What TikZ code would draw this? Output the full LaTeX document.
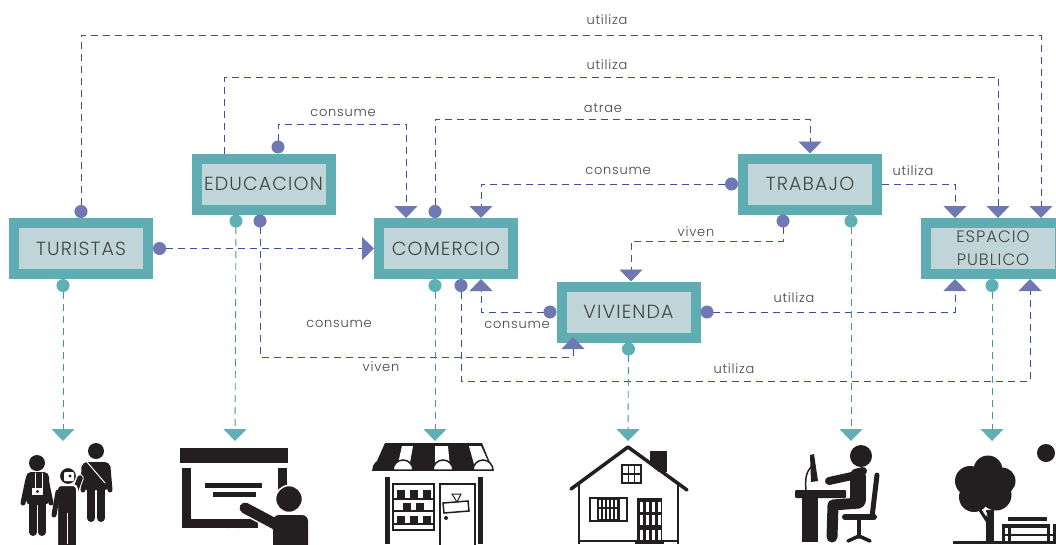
\documentclass[tikz,border=0pt]{standalone}
\usepackage{fontspec}
\setmainfont{Poppins Light}[LetterSpace=6]
\usetikzlibrary{arrows.meta,calc}
\definecolor{boxb}{HTML}{5FADB2}
\definecolor{boxf}{HTML}{C0D5D7}
\definecolor{ink}{HTML}{231F20}
\definecolor{txt}{HTML}{444444}
\definecolor{lineb}{HTML}{3F4F9C}
\definecolor{tipb}{HTML}{6F78B2}
\definecolor{linet}{HTML}{3C9AA0}
\definecolor{tipt}{HTML}{5FAFB5}
\tikzset{
  x=1pt,y=-1pt,
  dotb/.tip={Circle[length=13pt,color=tipb]},
  trib/.tip={Triangle[width=23pt,length=12pt,color=tipb]},
  dott/.tip={Circle[length=13pt,color=tipt]},
  trit/.tip={Triangle[width=23pt,length=12pt,color=tipt]},
  flowb/.style={draw=lineb,line width=0.9pt,dash pattern=on 7pt off 5pt,arrows={dotb-trib}},
  flowbn/.style={draw=lineb,line width=0.9pt,dash pattern=on 7pt off 5pt,arrows={-trib}},
  flowt/.style={draw=linet,line width=0.9pt,dash pattern=on 7pt off 5pt,arrows={dott-trit}},
  sector/.style={draw=boxb,fill=boxf,line width=10pt,minimum width=134pt,minimum height=51pt,inner sep=0pt,font=\fontsize{19}{23}\selectfont,text=txt,align=center},
  lbl/.style={font=\fontsize{13}{15}\selectfont,text=txt,inner sep=0pt},
  k/.style={fill=ink,draw=none},
  kl/.style={draw=ink,line cap=round,line join=round},
  wl/.style={draw=white,line cap=round,line join=round},
}
\begin{document}
\begin{tikzpicture}
\clip (0,0) rectangle (1056,544);
\fill[white] (0,0) rectangle (1056,544);
% boxes
\node[sector] (tur) at (81,248.5) {TURISTAS};
\node[sector] (edu) at (263.5,184) {EDUCACION};
\node[sector] (com) at (446,248.5) {COMERCIO};
\node[sector] (tra) at (810,184) {TRABAJO};
\node[sector] (viv) at (628.5,312) {VIVIENDA};
\node[sector,font=\fontsize{16.5}{23}\selectfont] (esp) at (993,248.5) {ESPACIO\\PUBLICO};
% targets below
\coordinate (itur) at (63,441);
\coordinate (iedu) at (235,441);
\coordinate (icom) at (435,441);
\coordinate (iviv) at (628,441);
\coordinate (itra) at (851,441);
\coordinate (iesp) at (992,441);
% blue connectors
\draw[flowb] (tur.north) |- (1041,35) -- (esp.north -| 1041,0);
\draw[flowbn] (edu.north -| 224,0) |- (998,77) -- (esp.north -| 998,0);
\draw[flowb] (edu.north -| 278,0) |- (406,124) -- (com.north -| 406,0);
\draw[flowb] (com.north -| 435,0) |- (810,119) -- (tra.north);
\draw[flowb] (tra.west) -| (com.north -| 481,0);
\draw[flowbn] (tra.east) -| (esp.north -| 955,0);
\draw[flowb] (tra.south -| 783,0) |- (631,241) -- (viv.north -| 631,0);
\draw[flowb] (tur.east) -- (com.west);
\draw[flowb] (edu.south -| 260,0) |- (573,357) -- (573,337);
\draw[flowb] (com.south -| 461,0) |- (1030,381) -- (esp.south -| 1030,0);
\draw[flowb] (viv.west) -| (com.south -| 481,0);
\draw[flowb] (viv.east) -| (esp.south -| 955,0);
% teal connectors
\draw[flowt] (tur.south -| 63,0) -- (itur);
\draw[flowt] (edu.south -| 236,0) -- (iedu);
\draw[flowt] (com.south -| 435,0) -- (icom);
\draw[flowt] (viv.south) -- (iviv);
\draw[flowt] (tra.south -| 851,0) -- (itra);
\draw[flowt] (esp.south -| 992,0) -- (iesp);
% labels
\node[lbl] (l1) at (607,20) {utiliza};
\node[lbl] (l2) at (607,65) {utiliza};
\node[lbl] (l3) at (343,113) {consume};
\node[lbl] (l4) at (603,108) {atrae};
\node[lbl] (l5) at (618,171) {consume};
\node[lbl] (l6) at (913,171) {utiliza};
\node[lbl] (l7) at (696,232) {viven};
\node[lbl] (l8) at (339,324) {consume};
\node[lbl] (l9) at (381,367) {viven};
\node[lbl] (l10) at (517,325) {consume};
\node[lbl] (l11) at (794,298) {utiliza};
\node[lbl] (l12) at (734,369) {utiliza};
% ---------- icon: tourists
\fill[k] (37,463) circle (8);
\draw[kl,line width=5pt] (28,479) -- (23,503) (46,479) -- (51,503);
\fill[k,rounded corners=5pt] (26,472) rectangle (49,505);
\draw[kl,line width=8pt] (33,500) -- (33,532) (42,500) -- (42,532);
\draw[wl,line width=0.8pt] (35,473) -- (35,488) (42,473) -- (42,488);
\fill[white] (32,488) rectangle (43,495);
\fill[k] (37.5,491.5) circle (1.6);
\fill[k] (96,451) circle (8);
\draw[kl,line width=5pt] (84,467) -- (83,490) (108,467) -- (110,490);
\fill[k,rounded corners=5pt] (82,462) rectangle (110,490);
\draw[kl,line width=8pt] (91,490) -- (91,518) (101,490) -- (101,518);
\draw[wl,line width=1pt] (87,462) -- (105,483);
\draw[white,line width=2pt,fill=ink] (68,476) circle (9);
\fill[white,rounded corners=1pt] (64,472) rectangle (74,481);
\fill[k] (70,476) circle (1.7);
\draw[white,line width=7.5pt,line cap=round] (75,492) -- (80,478);
\draw[kl,line width=5.5pt] (75,492) -- (80,478);
\draw[white,line width=2pt,fill=ink,rounded corners=4pt] (57,485) rectangle (77,550);
\draw[kl,line width=5pt] (58,492) -- (54,515);
\draw[white,line width=1.5pt] (67.5,513) -- (67.5,544);
% ---------- icon: education
\fill[k] (180,448) rectangle (288,463);
\fill[k] (182,468) rectangle (191,528);
\fill[k] (182,519) rectangle (258,528);
\fill[k] (278,468) rectangle (287,490);
\fill[k] (205,483) rectangle (262,488);
\fill[k] (213,492) rectangle (256,497);
\draw[ink,line width=1.5pt] (228,528) arc[start angle=180,end angle=360,radius=6];
\draw[white,line width=14pt,line cap=round] (245,508) -- (277,525);
\draw[kl,line width=11pt] (245,508) -- (277,525);
\draw[white,line width=1.5pt,fill=ink] (289,499) circle (13.5);
\fill[k,rounded corners=6pt] (273,515) rectangle (308,560);
\fill[k] (270,521) -- (280,515) -- (280,530) -- (273,530) -- cycle;
% ---------- icon: shop
\fill[k] (385,443) -- (482,443) -- (493,470) -- (373,470) -- cycle;
\fill[white] (402,446) -- (413,446) -- (409,468) -- (397,468) -- cycle;
\fill[white] (435,446) -- (448,446) -- (450,468) -- (435,468) -- cycle;
\fill[white] (469,446) -- (481,446) -- (491,468) -- (475,468) -- cycle;
\foreach \cx/\fl in {383/ink,403/white,425/ink,443/white,463/ink,483/white}{
  \draw[ink,line width=1.5pt,fill=\fl] (\cx-10,470) arc[start angle=180,end angle=360,radius=10] -- cycle;
}
\fill[k] (385,477) rectangle (390,544);
\fill[k] (478,477) rectangle (483,544);
\draw[ink,line width=2pt] (393,484) rectangle (434,530);
\draw[ink,line width=1.5pt] (393,499) -- (434,499) (393,511) -- (434,511) (393,524) -- (434,524);
\foreach \bx in {397,410,423}{\fill[k] (\bx,490) rectangle (\bx+8,498);\fill[k] (\bx,516) rectangle (\bx+8,523);}
\foreach \bx in {403,416}{\fill[k] (\bx,503) rectangle (\bx+8,510);}
\draw[ink,line width=2pt] (440,484) rectangle (475,546);
\draw[ink,line width=1pt] (457,502) -- (452,494) -- (461,494) -- cycle;
\draw[ink,line width=1.5pt] (443,503) -- (468,501) -- (469,511) -- (444,513) -- cycle;
\fill[k] (446,518) circle (2);
% ---------- icon: house
\fill[k] (650,451) rectangle (667,472);
\fill[white] (628,447) -- (671,482) -- (630,482) -- cycle;
\draw[ink,line width=1.5pt] (579,483) -- (579,544) (678,483) -- (678,544) (579,541) -- (678,541);
\draw[kl,line width=3.5pt] (571,489) -- (628,447) -- (687,490);
\draw[ink,line width=2pt] (622,465) rectangle (641,483);
\draw[ink,line width=1.2pt] (628.3,465) -- (628.3,483) (634.6,465) -- (634.6,483) (622,474) -- (641,474);
\draw[ink,line width=1.5pt] (590,498) rectangle (627,521);
\fill[k] (597,497) rectangle (620,521);
\foreach \wx in {598.5,602.5,606.5,610.5,614.5}{\fill[white] (\wx,500) rectangle (\wx+2.6,507);\fill[white] (\wx,509) rectangle (\wx+2.6,519);}
\fill[k] (637,498) rectangle (662,541);
\foreach \dx in {640,646,652,657.5}{\foreach \dy in {502,515,530}{\fill[white] (\dx,\dy) rectangle (\dx+3.2,\dy+10);}}
\fill[k] (635,541) rectangle (664,544);
% ---------- icon: worker
\fill[k] (861,456) circle (11);
\draw[kl,line width=16pt] (858,477) -- (858,500);
\draw[kl,line width=8pt] (855,473) -- (863,471);
\draw[kl,line width=8pt] (862,472) -- (852,476) -- (829,481);
\draw[kl,line width=11pt,line join=round] (859,503) -- (833,505) -- (832,537);
\draw[kl,line width=5pt] (877,475) -- (872,517);
\draw[kl,line width=6pt] (845,517) -- (874,517);
\draw[kl,line width=3.5pt] (859,520) -- (859,537);
\draw[kl,line width=3.5pt] (848,541) -- (859,536) -- (870,541);
\fill[k,rounded corners=1pt] (795,490) rectangle (846,498);
\fill[k] (802,497) rectangle (818,542);
\fill[k] (810,455) -- (814,454) -- (818,481) -- (811,482) -- cycle;
\draw[ink,line width=1.5pt] (806,491) .. controls (805,478) and (806,472) .. (812,466);
% ---------- icon: park
\fill[k] (988,470) circle (14.5);
\fill[k] (970,481) circle (15);
\fill[k] (1002,481) circle (13.5);
\fill[k] (974,497) circle (15);
\fill[k] (996,495) circle (15.5);
\fill[k] (985,490) circle (15);
\fill[k] (986,510) rectangle (994,544);
\draw[kl,line width=3pt] (980,510) -- (989,524);
\fill[white] (984.5,512) -- (986.5,512) -- (987.5,517) -- cycle;
\fill[k] (953,541) rectangle (1056,544);
\fill[k] (1046,453) circle (9);
\fill[k] (1008,517) rectangle (1047,521);
\fill[k] (1002,524) rectangle (1047,528);
\fill[k] (1002,524) rectangle (1005,541);
\fill[k] (1008,528) rectangle (1011,541);
\fill[k] (1047,524) rectangle (1050,541);
\fill[k] (1053,524) rectangle (1056,541);
\fill[k] (1005,534) rectangle (1053,536);
\end{tikzpicture}
\end{document}
